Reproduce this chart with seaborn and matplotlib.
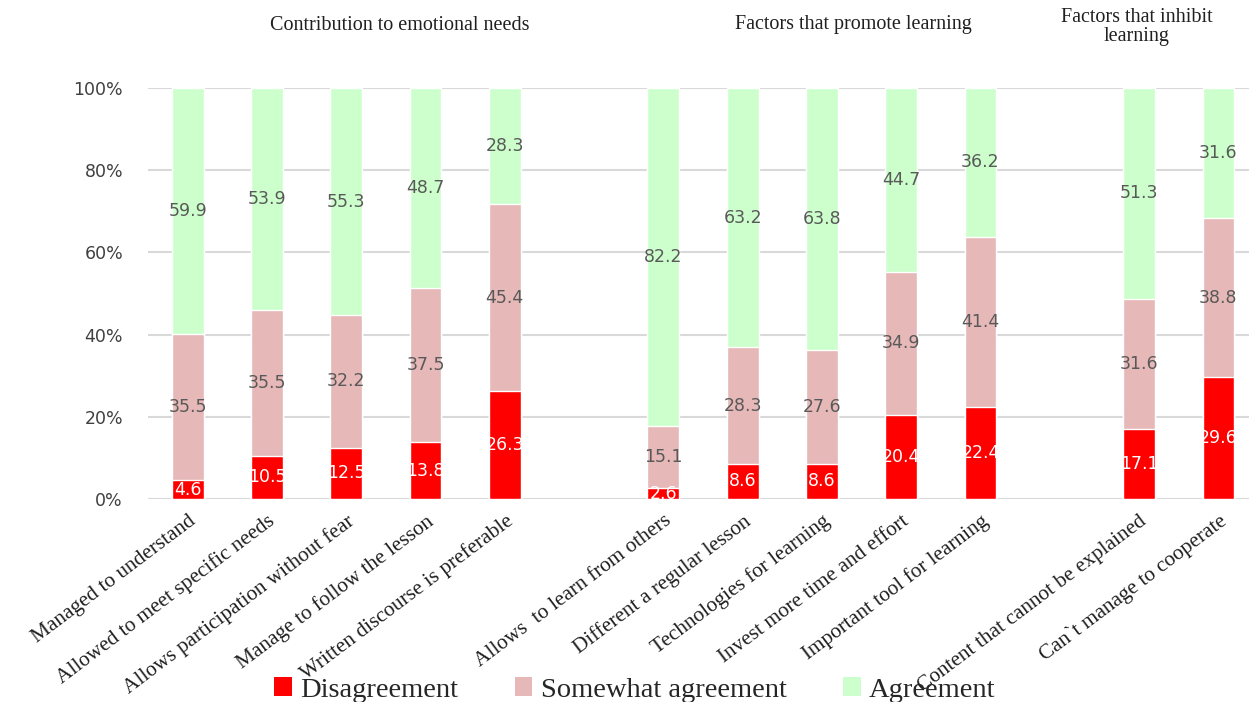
"""Stacked 100% bar chart of survey agreement levels."""

import matplotlib
import numpy as np
import pandas as pd
import seaborn as sns
from matplotlib.patches import Patch

matplotlib.use("Agg")
import matplotlib.pyplot as plt

items = [
    "Managed to understand",
    "Allowed to meet specific needs",
    "Allows participation without fear",
    "Manage to follow the lesson",
    "Written discourse is preferable",
    "Allows  to learn from others",
    "Different a regular lesson",
    "Technologies for learning",
    "Invest more time and effort",
    "Important tool for learning",
    "Content that cannot be explained",
    "Can`t manage to cooperate",
]
disagreement = [4.6, 10.5, 12.5, 13.8, 26.3, 2.6, 8.6, 8.6, 20.4, 22.4, 17.1, 29.6]
somewhat = [35.5, 35.5, 32.2, 37.5, 45.4, 15.1, 28.3, 27.6, 34.9, 41.4, 31.6, 38.8]
agreement = [59.9, 53.9, 55.3, 48.7, 28.3, 82.2, 63.2, 63.8, 44.7, 36.2, 51.3, 31.6]
groups = ["Contribution to emotional needs", "Factors that promote learning",
          "Factors that inhibit\nlearning"]
series = ["Disagreement", "Somewhat agreement", "Agreement"]
colors = ["#FF0000", "#E6B8B7", "#CCFFCC"]

# gap slots between the three groups
order = items[:5] + ["gap1"] + items[5:10] + ["gap2"] + items[10:]

df = pd.DataFrame({"item": items, "d": disagreement, "s": somewhat, "a": agreement})
total = df[["d", "s", "a"]].sum(axis=1)
df["d_pct"] = df["d"] / total * 100
df["s_pct"] = df["s"] / total * 100
df["a_pct"] = df["a"] / total * 100
df["cum_d"] = df["d_pct"]
df["cum_s"] = df["d_pct"] + df["s_pct"]
df["cum_a"] = df["cum_s"] + df["a_pct"]

sns.set_style("white")
plt.rcParams["font.family"] = ["DejaVu Sans"]

fig = plt.figure(figsize=(12.49, 7.02), dpi=100)
ax = fig.add_axes([148 / 1249, 1 - 499 / 702, 1110 / 1249, 411 / 702])

for col, color in zip(["cum_a", "cum_s", "cum_d"], colors[::-1]):
    sns.barplot(data=df, x="item", y=col, order=order, color=color,
                width=0.4, saturation=1, ax=ax, errorbar=None, zorder=3)

pos = {name: i for i, name in enumerate(order)}
for _, row in df.iterrows():
    x = pos[row["item"]]
    ax.text(x, row["d_pct"] / 2, f"{row['d']:.1f}", ha="center", va="center",
            color="white", fontsize=12.5, zorder=5)
    ax.text(x, row["d_pct"] + row["s_pct"] / 2, f"{row['s']:.1f}", ha="center",
            va="center", color="#595959", fontsize=12.5, zorder=5)
    ax.text(x, row["cum_s"] + row["a_pct"] / 2, f"{row['a']:.1f}", ha="center",
            va="center", color="#595959", fontsize=12.5, zorder=5)

ax.set_ylim(0, 100)
ax.set_xlim(-0.5, len(order) - 0.5)
ax.set_yticks(np.arange(0, 101, 20))
ax.set_yticklabels([f"{v}%" for v in range(0, 101, 20)], fontsize=12.5, color="#404040")
ax.yaxis.grid(True, color="#D9D9D9", linewidth=1.5, zorder=0)
ax.set_axisbelow(True)
for side in ["top", "right", "left", "bottom"]:
    ax.spines[side].set_visible(False)
ax.tick_params(axis="y", length=0, pad=18)
ax.tick_params(axis="x", length=0, pad=9)
ax.set_xlabel("")
ax.set_ylabel("")

ax.set_xticks(range(len(order)))
ax.set_xticklabels([n if not n.startswith("gap") else "" for n in order],
                   rotation=37, ha="right", va="top", rotation_mode="anchor",
                   fontsize=15.3, family="Liberation Serif", color="#202020")

title_x = [400, 853, 1137]
title_y = [25, 25, 27]
for name, tx, ty in zip(groups, title_x, title_y):
    fig.text(tx / 1249, 1 - ty / 702, name, ha="center", va="center",
             fontsize=14.5, family="Liberation Serif", color="#202020",
             linespacing=1.0)

handles = [Patch(facecolor=c, edgecolor="none") for c in colors]
fig.legend(handles, series, loc="center", bbox_to_anchor=(635 / 1249, 1 - 690 / 702),
           ncol=3, frameon=False, handlelength=0.6, handleheight=0.6,
           handletextpad=0.3, columnspacing=2.0,
           prop={"family": "Liberation Serif", "size": 20.5})

fig.savefig("out.png", dpi=100)
plt.close(fig)
